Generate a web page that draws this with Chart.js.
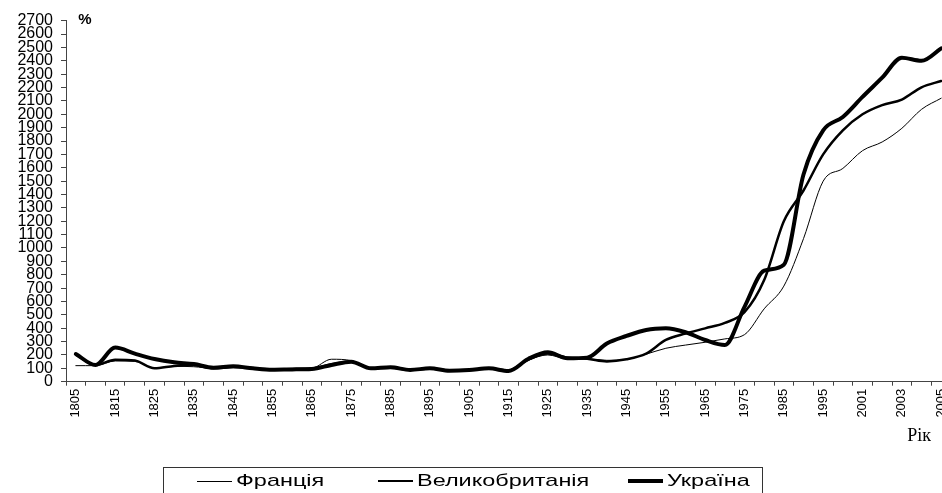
<!DOCTYPE html>
<html>
<head>
<meta charset="utf-8">
<script src="https://cdn.jsdelivr.net/npm/chart.js@4/dist/chart.umd.min.js"></script>
<style>
  html, body { margin: 0; padding: 0; background: #fff; overflow: hidden; width: 942px; height: 493px; }
  #wrap { position: absolute; left: 0; top: 0; width: 951px; height: 493px; }
  #legend { position: absolute; left: 163px; top: 467px; width: 600px; height: 40px; border: 1px solid #333;
            box-sizing: border-box; font: 17px "Liberation Sans", Arial, sans-serif; color: #000; }
  .item { position: absolute; top: 3px; height: 20px; display: flex; align-items: center; white-space: nowrap; }
  .swatch { display: inline-block; width: 35px; background: #000; margin-right: 4px; }
  .ltext { display: inline-block; transform: scaleX(1.38); transform-origin: left center; }
</style>
</head>
<body>
<div id="wrap"><canvas id="c" width="951" height="493"></canvas></div>
<div id="legend"></div>
<script>
const categories = ['1805','1810','1815','1820','1825','1830','1835','1840','1845','1850',
  '1855','1860','1865','1870','1875','1880','1885','1890','1895','1900',
  '1905','1910','1915','1920','1925','1930','1935','1940','1945','1950',
  '1955','1960','1965','1970','1975','1980','1985','1990','1995','2000',
  '2001','2002','2003','2004','2005'];

const france = [120,120,155,152,102,115,112,100,108,98,
  90,95,100,168,158,105,105,90,97,85,
  88,97,85,160,200,170,170,160,167,206,
  250,274,295,320,352,545,715,1070,1500,1595,
  1728,1793,1895,2037,2120];

const britain = [205,125,165,158,100,118,125,100,110,100,
  92,95,100,130,150,100,105,90,98,85,
  88,98,85,165,210,180,172,152,168,210,
  312,360,399,440,520,760,1200,1430,1700,1880,
  2000,2069,2110,2202,2249];

const ukraine = [207,125,255,210,170,145,132,105,115,100,
  90,92,95,125,150,100,108,88,100,82,
  87,100,80,170,220,175,180,285,342,387,
  399,370,312,275,560,830,875,1550,1880,1980,
  2130,2274,2423,2400,2493];

const seriesNames = ['Франція', 'Великобританія', 'Україна'];
const yUnitLabel = '%';
const xAxisTitle = 'Рік';
const yMin = 0, yMax = 2700, yStep = 100;

const lineWidths = [1, 2.5, 4];
const legendLineWidths = [1, 2, 3.5];
const legendOffsets = [33, 214, 464];

const sans = '"Liberation Sans", Arial, sans-serif';

const textPlugin = {
  id: 'extraText',
  afterDraw(chart) {
    const ctx = chart.ctx, area = chart.chartArea;
    ctx.save();
    ctx.fillStyle = '#000';
    ctx.font = 'bold 15px ' + sans;
    ctx.textAlign = 'center';
    ctx.textBaseline = 'middle';
    ctx.fillText(yUnitLabel, area.left + 19, area.top - 1);
    ctx.font = '18px "Liberation Serif", "Times New Roman", serif';
    ctx.textAlign = 'right';
    ctx.fillText(xAxisTitle, 931, chart.scales.x.bottom + 11);
    ctx.restore();
  }
};

const chart = new Chart(document.getElementById('c'), {
  type: 'line',
  data: {
    labels: categories,
    datasets: [
      { label: seriesNames[0], data: france, borderColor: '#000', borderWidth: lineWidths[0] },
      { label: seriesNames[1], data: britain, borderColor: '#000', borderWidth: lineWidths[1] },
      { label: seriesNames[2], data: ukraine, borderColor: '#000', borderWidth: lineWidths[2] }
    ]
  },
  options: {
    responsive: false,
    animation: false,
    layout: { padding: { top: 20.7, right: 0, bottom: 67.3, left: 0 } },
    elements: {
      point: { radius: 0 },
      line: { cubicInterpolationMode: 'monotone', fill: false, borderCapStyle: 'round', borderJoinStyle: 'round' }
    },
    plugins: { legend: { display: false }, tooltip: { enabled: false } },
    scales: {
      x: {
        type: 'category',
        offset: true,
        grid: { offset: true, drawOnChartArea: false, drawTicks: true, tickLength: 4, color: '#444' },
        border: { display: true, color: '#444', width: 1 },
        ticks: {
          autoSkip: false, minRotation: 90, maxRotation: 90, padding: 3, color: '#000',
          font: { family: sans, size: 13 },
          callback: function (value, index) { return index % 2 === 0 ? this.getLabelForValue(value) : ''; }
        },
        afterFit(scale) { scale.height = 44; scale.paddingRight = 0; scale.paddingLeft = 0; }
      },
      y: {
        min: yMin, max: yMax,
        grid: { drawOnChartArea: false, drawTicks: true, tickLength: 5, color: '#444' },
        border: { display: true, color: '#444', width: 1 },
        ticks: {
          stepSize: yStep, autoSkip: false, padding: 8, color: '#000',
          font: { family: sans, size: 16 },
          callback: (v) => String(v)
        },
        afterFit(scale) { scale.width = 66; }
      }
    }
  },
  plugins: [textPlugin]
});

// HTML legend built from the chart's datasets
const legendEl = document.getElementById('legend');
chart.data.datasets.forEach((ds, i) => {
  const item = document.createElement('div');
  item.className = 'item';
  item.style.left = legendOffsets[i] + 'px';
  const sw = document.createElement('span');
  sw.className = 'swatch';
  sw.style.height = legendLineWidths[i] + 'px';
  sw.style.background = ds.borderColor;
  const tx = document.createElement('span');
  tx.className = 'ltext';
  tx.textContent = ds.label;
  item.appendChild(sw);
  item.appendChild(tx);
  legendEl.appendChild(item);
});
</script>
</body>
</html>
